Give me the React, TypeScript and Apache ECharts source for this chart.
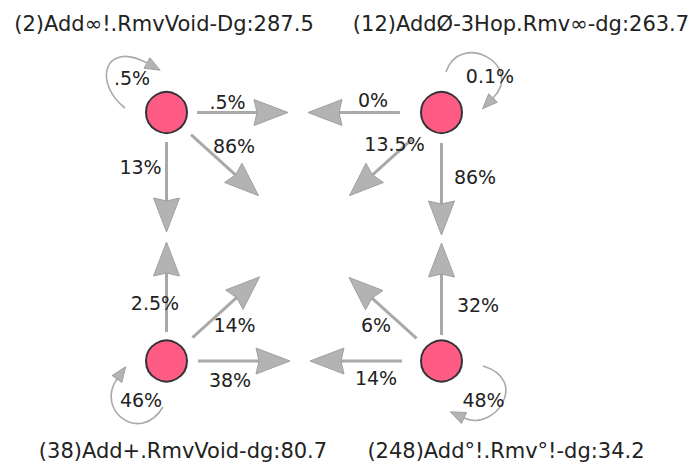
import React, { useEffect, useRef } from 'react';
import * as echarts from 'echarts';

// ---- data ----
const nodeNames = [
  '(2)Add∞!.RmvVoid-Dg:287.5',
  '(12)AddØ-3Hop.Rmv∞-dg:263.7',
  '(38)Add+.RmvVoid-dg:80.7',
  '(248)Add°!.Rmv°!-dg:34.2',
];
const edgeSource = [0, 0, 0, 1, 1, 1, 2, 2, 2, 3, 3, 3];
const edgeTarget = [1, 3, 2, 0, 2, 3, 0, 1, 3, 2, 0, 1];
const edgeLabel = ['.5%', '86%', '13%', '0%', '13.5%', '86%', '2.5%', '14%', '38%', '14%', '6%', '32%'];
const loopLabel = ['.5%', '0.1%', '46%', '48%'];

// ---- layout (pixel space of the hidden axes) ----
const nodeX = [166.5, 441.5, 166.5, 441.5];
const nodeY = [112.5, 112.5, 361, 361];
const nodeLabelOffset = [[-2.5, -88.5], [79.5, -88.5], [16.5, 90], [64.5, 90]];
const edgeStart = [30.5, 33, 29.5, 41.5, 40, 30.5, 29, 35, 31.5, 39.5, 33.6, 26];
const edgeReach = [121.5, 124, 119.5, 133.5, 124, 122.5, 119, 125.5, 123.5, 131.5, 124.7, 118];
const edgeLabelOffset = [
  [61, -11], [67.5, 33.5], [-26, 54.5],
  [-68.5, -12.5], [-47, 31], [33.5, 64.5],
  [-11.5, -58.5], [68, -36.5], [63.5, 18.5],
  [-65.5, 17], [-65.5, -36], [36.5, -56.5],
];
// loop bezier offsets from node centre: p0, c1, c2, p3
const loopShape = [
  [[-41.5, -4.5], [-74.5, -30.5], [-61.5, -72.5], [-19.5, -49.5]],
  [[4.5, -40.5], [18.5, -82.5], [83.5, -47.5], [51.5, -14.5]],
  [[-3.5, 46], [-26.5, 84], [-71.5, 49], [-49.5, 18]],
  [[41.5, 5], [88.5, 19], [53.5, 71], [22.5, 57]],
];
const loopLabelOffset = [[-34.5, -34.5], [48.5, -37], [-25.5, 38.5], [42, 38.5]];

const FONT = 'DejaVu Sans';
const TEXT_COLOR = '#222222';
const EDGE_COLOR = '#a9a9a9';
const HEAD_FILL = '#b3b3b3';
const HEAD_STROKE = '#a0a0a0';

function head(tx: number, ty: number, dx: number, dy: number, len: number, wid: number, notch: number) {
  const nx = -dy, ny = dx;
  const bx = tx - dx * len, by = ty - dy * len;
  return {
    points: [
      [tx, ty],
      [bx + nx * wid / 2, by + ny * wid / 2],
      [bx + dx * notch, by + dy * notch],
      [bx - nx * wid / 2, by - ny * wid / 2],
    ],
    bx, by,
  };
}

export default function App() {
  const ref = useRef<HTMLDivElement>(null);
  useEffect(() => {
    if (!ref.current) return;
    const chart = echarts.init(ref.current, undefined, { renderer: 'svg' });

    const edgeRender = (params: any, api: any) => {
      const i = params.dataIndex;
      const s = edgeSource[i], t = edgeTarget[i];
      const p = api.coord([nodeX[s], nodeY[s]]);
      const q = api.coord([nodeX[t], nodeY[t]]);
      const L = Math.hypot(q[0] - p[0], q[1] - p[1]);
      const dx = (q[0] - p[0]) / L, dy = (q[1] - p[1]) / L;
      const sx = p[0] + dx * edgeStart[i], sy = p[1] + dy * edgeStart[i];
      const tx = p[0] + dx * edgeReach[i], ty = p[1] + dy * edgeReach[i];
      const h = head(tx, ty, dx, dy, 34, 26, 3);
      return {
        type: 'group',
        children: [
          { type: 'line', shape: { x1: sx, y1: sy, x2: h.bx + dx * 3, y2: h.by + dy * 3 }, style: { stroke: EDGE_COLOR, lineWidth: 3, fill: 'none' } },
          { type: 'polygon', shape: { points: h.points }, style: { fill: HEAD_FILL, stroke: HEAD_STROKE, lineWidth: 1 } },
          {
            type: 'text',
            x: p[0] + edgeLabelOffset[i][0], y: p[1] + edgeLabelOffset[i][1],
            style: { text: edgeLabel[i], fill: TEXT_COLOR, fontSize: 19, fontFamily: FONT, align: 'center', verticalAlign: 'middle' },
          },
        ],
      };
    };

    const loopRender = (params: any, api: any) => {
      const i = params.dataIndex;
      const c = api.coord([nodeX[i], nodeY[i]]);
      const sh = loopShape[i];
      const P = sh.map((o) => [c[0] + o[0], c[1] + o[1]]);
      let dx = P[3][0] - P[2][0], dy = P[3][1] - P[2][1];
      const L = Math.hypot(dx, dy);
      dx /= L; dy /= L;
      const len = 15;
      const h = head(P[3][0] + dx * len, P[3][1] + dy * len, dx, dy, len, 12, 0);
      return {
        type: 'group',
        children: [
          {
            type: 'bezierCurve',
            shape: { x1: P[0][0], y1: P[0][1], cpx1: P[1][0], cpy1: P[1][1], cpx2: P[2][0], cpy2: P[2][1], x2: P[3][0], y2: P[3][1] },
            style: { stroke: EDGE_COLOR, lineWidth: 1.6, fill: 'none' },
          },
          { type: 'polygon', shape: { points: h.points }, style: { fill: HEAD_FILL, stroke: HEAD_STROKE, lineWidth: 1 } },
          {
            type: 'text',
            x: c[0] + loopLabelOffset[i][0], y: c[1] + loopLabelOffset[i][1],
            style: { text: loopLabel[i], fill: TEXT_COLOR, fontSize: 19, fontFamily: FONT, align: 'center', verticalAlign: 'middle' },
          },
        ],
      };
    };

    chart.setOption({
      animation: false,
      grid: { left: 0, right: 0, top: 0, bottom: 0 },
      xAxis: { type: 'value', min: 0, max: 692, show: false },
      yAxis: { type: 'value', min: 0, max: 466, inverse: true, show: false },
      series: [
        {
          type: 'custom',
          clip: false,
          silent: true,
          z: 1,
          data: edgeSource.map((s) => [nodeX[s], nodeY[s]]),
          renderItem: edgeRender,
        },
        {
          type: 'custom',
          clip: false,
          silent: true,
          z: 1,
          data: nodeNames.map((_, i) => [nodeX[i], nodeY[i]]),
          renderItem: loopRender,
        },
        {
          type: 'scatter',
          silent: true,
          z: 3,
          symbol: 'circle',
          symbolSize: 41,
          itemStyle: { color: '#ff5c85', borderColor: '#333333', borderWidth: 2, opacity: 1 },
          label: {
            show: true,
            position: 'inside',
            formatter: '{b}',
            color: TEXT_COLOR,
            fontSize: 21,
            fontFamily: FONT,
          },
          data: nodeNames.map((n, i) => ({
            name: n,
            value: [nodeX[i], nodeY[i]],
            label: { offset: nodeLabelOffset[i] },
          })),
        },
      ],
    });
    return () => chart.dispose();
  }, []);
  return <div ref={ref} style={{ position: 'absolute', left: 0, top: 0, width: 692, height: 466 }} />;
}
